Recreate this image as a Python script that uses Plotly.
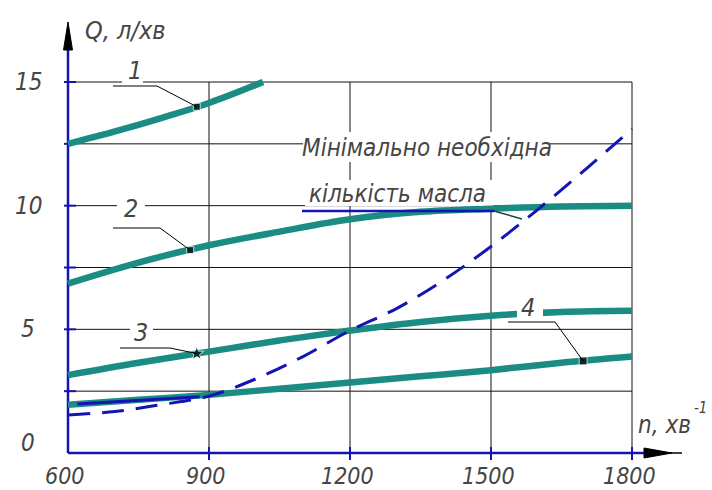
import plotly.graph_objects as go

# ---------------- data ----------------
n_common = [600, 750, 900, 1050, 1200, 1350, 1500, 1650, 1800]
curve1_n = [600, 700, 800, 900, 1015]
curve1_q = [12.5, 13.0, 13.55, 14.15, 15.0]
curve2_q = [6.85, 7.7, 8.4, 8.95, 9.45, 9.75, 9.88, 9.97, 10.0]
curve3_q = [3.15, 3.65, 4.1, 4.55, 4.95, 5.3, 5.55, 5.7, 5.75]
curve4_q = [1.95, 2.15, 2.35, 2.6, 2.85, 3.1, 3.35, 3.65, 3.9]
min_n = [600, 700, 800, 900, 1000, 1100, 1200, 1300, 1400, 1500, 1600, 1700, 1800]
min_q = [1.54, 1.68, 1.96, 2.3, 3.0, 3.9, 4.95, 5.85, 7.0, 8.35, 9.85, 11.45, 13.1]
seg_n = [620, 880]
seg_q = [1.98, 2.27]
marker_n = [874, 860, 874, 1696]
marker_q = [14.0, 8.2, 4.02, 3.72]
curve_labels = ["1", "2", "3", "4"]
x_ticks = [600, 900, 1200, 1500, 1800]
x_tick_labels = ["600", "900", "1200", "1500", "1800"]
y_ticks = [0, 5, 10, 15]
y_tick_labels = ["0", "5", "10", "15"]
grid_q = [2.5, 5, 7.5, 10, 12.5, 15]
grid_n = [900, 1200, 1500, 1800]
min_label = ["Мінімально необхідна", "кількість масла"]
x_title = "n, хв"
x_title_exp = "-1"
y_title = "Q, л/хв"

# ---------------- scale helpers (pixels -> data) ----------------
W, H = 712, 490
X0PX, X1PX = 68, 632      # n = 600 .. 1800
Y0PX, Y1PX = 453, 82      # Q = 0 .. 15
PXN = (X1PX - X0PX) / (1800 - 600)
PXQ = (Y0PX - Y1PX) / 15.0


def N(px):
    return 600 + (px - X0PX) / PXN


def Q(py):
    return (Y0PX - py) / PXQ


TEAL = "#1b8c84"
BLUE = "#1414b4"
TXT = "#454545"
FONT = "Liberation Sans Narrow, DejaVu Sans Condensed, Arial Narrow, DejaVu Sans, sans-serif"

fig = go.Figure()

# curves
fig.add_trace(go.Scatter(x=curve1_n, y=curve1_q, mode="lines",
                         line=dict(color=TEAL, width=6.5, shape="spline"), showlegend=False))
for qs in (curve2_q, curve3_q, curve4_q):
    fig.add_trace(go.Scatter(x=n_common, y=qs, mode="lines",
                             line=dict(color=TEAL, width=6.5, shape="spline"), showlegend=False))
fig.add_trace(go.Scatter(x=seg_n, y=seg_q, mode="lines",
                         line=dict(color=BLUE, width=3), showlegend=False))
fig.add_trace(go.Scatter(x=min_n, y=min_q, mode="lines",
                         line=dict(color=BLUE, width=3, dash="22px,12px", shape="spline"),
                         showlegend=False))

shapes = []
# grid
for g in grid_q:
    shapes.append(dict(type="line", x0=600, x1=1800, y0=g, y1=g, layer="below",
                       line=dict(color="#111", width=1)))
for g in grid_n:
    shapes.append(dict(type="line", x0=g, x1=g, y0=0, y1=15, layer="below",
                       line=dict(color="#111", width=1)))


def rect(px0, py0, px1, py1, layer="below"):
    return dict(type="rect", x0=N(px0), x1=N(px1), y0=Q(py1), y1=Q(py0), layer=layer,
                fillcolor="white", line=dict(width=0))


# white gaps behind texts (below traces)
shapes += [rect(122, 60, 143, 84), rect(117, 195, 145, 224), rect(130, 318, 153, 344),
           rect(303, 132, 550, 162), rect(305, 180, 494, 206)]
# axes
shapes.append(dict(type="line", x0=600, x1=600, y0=0, y1=Q(40), layer="below",
                   line=dict(color=BLUE, width=2.5)))
shapes.append(dict(type="line", x0=600, x1=N(655), y0=0, y1=0, layer="below",
                   line=dict(color=BLUE, width=2.5)))
for g in grid_q:
    shapes.append(dict(type="line", x0=N(64), x1=N(76), y0=g, y1=g, layer="below",
                       line=dict(color=BLUE, width=2)))
for g in grid_n:
    shapes.append(dict(type="line", x0=g, x1=g, y0=Q(447), y1=Q(460), layer="below",
                       line=dict(color=BLUE, width=2)))
# arrows
shapes.append(dict(type="path",
                   path=f"M {N(68)},{Q(22)} L {N(72.5)},{Q(50)} L {N(63.5)},{Q(50)} Z",
                   fillcolor="black", line=dict(color="black", width=1), layer="above"))
shapes.append(dict(type="path",
                   path=f"M {N(672)},{Q(453)} L {N(644)},{Q(448)} L {N(644)},{Q(458)} Z",
                   fillcolor="black", line=dict(color="black", width=1), layer="above"))
shapes.append(dict(type="line", x0=N(660), x1=N(682), y0=0, y1=0, layer="above",
                   line=dict(color="black", width=1.5)))
# gap in curve 3 for label "4"
shapes.append(rect(517, 300, 543, 319, layer="above"))
# leaders
leaders = [((113, 86), (157, 86)), ((113, 228), (160, 228)),
           ((120, 348), (170, 348)), ((508, 322), (555, 322))]
for (a, b), mn, mq in zip(leaders, marker_n, marker_q):
    shapes.append(dict(type="path",
                       path=f"M {N(a[0])},{Q(a[1])} L {N(b[0])},{Q(b[1])} L {mn},{mq}",
                       line=dict(color="black", width=1), layer="above"))
# min label underline + leader
shapes.append(dict(type="line", x0=N(302), x1=N(494), y0=Q(211), y1=Q(211), layer="above",
                   line=dict(color=BLUE, width=2.5)))
shapes.append(dict(type="line", x0=N(494), x1=N(522), y0=Q(211), y1=Q(219), layer="above",
                   line=dict(color="#0c4a44", width=1.5)))

fig.add_trace(go.Scatter(x=marker_n, y=marker_q, mode="markers",
                         marker=dict(symbol=["square", "square", "star", "square"], size=[7, 7, 11, 8],
                                     color="black"), showlegend=False))

ann = []


def txt(text, x, y, xanchor="center", size=24, **kw):
    ann.append(dict(text=text, x=x, y=y, xanchor=xanchor, yanchor="middle", showarrow=False,
                    font=dict(family=FONT, size=size, color=TXT, style="italic"), **kw))


label_px = [(135, 70), (131, 208), (141, 332), (528, 307)]
for t, (px, py) in zip(curve_labels, label_px):
    txt(t, N(px), Q(py), size=25)
for v, t in zip(y_ticks, y_tick_labels):
    txt(t, N(28), v, size=24, yshift=(10 if v == 0 else 0))
for v, t in zip(x_ticks, x_tick_labels):
    txt(t, v, Q(476), size=23, xshift=-3)
txt(min_label[0], N(427), Q(148), size=24)
txt(min_label[1], N(307), Q(194), xanchor="left", size=24)
txt(y_title, N(83), Q(30), xanchor="left", size=25)
txt(x_title, N(636), Q(425), xanchor="left", size=24)
txt(x_title_exp, N(692), Q(408), xanchor="left", size=15)

fig.update_layout(
    width=W, height=H, margin=dict(l=0, r=0, t=0, b=0),
    paper_bgcolor="white", plot_bgcolor="white",
    xaxis=dict(range=[N(0), N(W)], visible=False, fixedrange=True),
    yaxis=dict(range=[Q(H), Q(0)], visible=False, fixedrange=True),
    shapes=shapes, annotations=ann, showlegend=False,
)
fig.write_html("out.html")
